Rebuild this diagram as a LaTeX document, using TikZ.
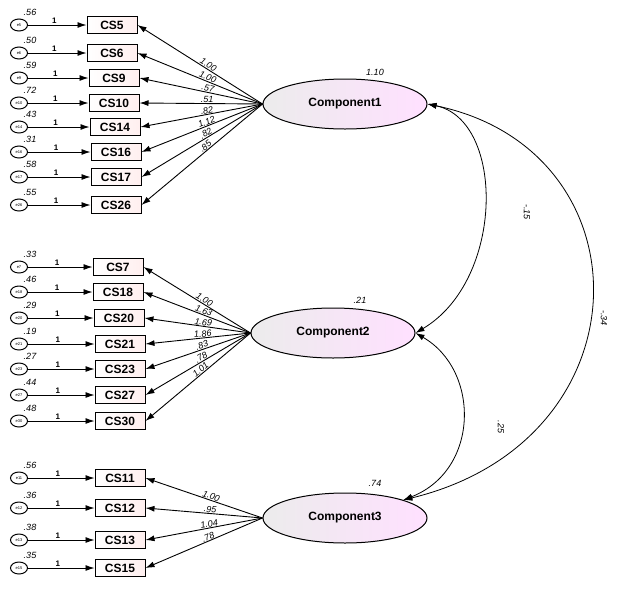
\documentclass[tikz,border=0pt]{standalone}
\usepackage{fontspec}
\setmainfont{Liberation Sans}
\usetikzlibrary{arrows.meta,shapes.geometric}
\begin{document}
\begin{tikzpicture}[x=1pt,y=-1pt,
 box/.style={draw,line width=1pt,minimum width=50pt,minimum height=17pt,inner sep=0pt,left color=white,right color=pink!25,font=\fontsize{12}{12}\selectfont\bfseries},
 err/.style={draw,ellipse,line width=1pt,minimum width=17pt,minimum height=12pt,inner sep=0pt,fill=white,font=\fontsize{4}{4}\selectfont},
 comp/.style={draw,ellipse,line width=1pt,minimum width=164pt,minimum height=50pt,left color=gray!15,right color=magenta!12,font=\fontsize{12}{12}\selectfont\bfseries},
 arr/.style={-{Latex[length=9pt,width=6pt]},line width=0.9pt},
 darr/.style={{Latex[length=9pt,width=6pt]}-{Latex[length=9pt,width=6pt]},line width=0.8pt},
 lab/.style={font=\fontsize{9}{9}\selectfont\itshape,inner sep=0.5pt},
 lw/.style={font=\fontsize{8}{8}\selectfont\bfseries,inner sep=1pt}]
\useasboundingbox (0,0) rectangle (625,590);
\node[comp] (C1) at (345,104) {Component1};
\node[comp] (C2) at (333,333) {Component2};
\node[comp] (C3) at (345,518) {Component3};
\node[lab] at (375,72) {1.10};
\node[lab] at (360,300) {.21};
\node[lab] at (375,483) {.74};
\foreach \n/\lbl/\y/\v/\ld/\c/\xb in {
 a5/5/25/.56/1.00/C1/112, a6/6/53/.50/1.00/C1/112, a9/9/78/.59/.57/C1/114, a10/10/103/.72/.51/C1/114,
 a14/14/127/.43/.82/C1/115, a16/16/152/.31/1.12/C1/116, a17/17/177/.58/.82/C1/116, a26/26/205/.55/.85/C1/116,
 b7/7/267/.33/1.00/C2/118, b18/18/292/.46/1.63/C2/118, b20/20/318/.29/1.69/C2/119, b21/21/344/.19/1.86/C2/120,
 b23/23/369/.27/.83/C2/120, b27/27/395/.44/.78/C2/120, b30/30/421/.48/1.01/C2/120,
 c11/11/478/.56/1.00/C3/120, c12/12/508/.36/.95/C3/120, c13/13/540/.38/1.04/C3/120, c15/15/568/.35/.78/C3/120}{
 \node[box] (\n) at (\xb,\y) {CS\lbl};
 \node[err] (e\n) at (19,\y) {e\lbl};
 \node[lab] at (30,\y-13) {\v};
 \draw[arr] (e\n) -- node[lw,above,pos=0.45]{1} (\n);
 \draw[arr] (\c.west) -- node[lab,above,sloped,pos=0.45]{\ld} (\n.east);
}
\draw[darr] (C1.east) .. controls (505,120) and (505,280) .. (C2.east);
\node[lab,rotate=-90] at (527,212) {-.15};
\draw[darr] (C1.east) .. controls (650,150) and (650,440) .. (C3.north east);
\node[lab,rotate=-90] at (604,318) {-.34};
\draw[darr] (C2.east) .. controls (480,370) and (480,470) .. (C3.north east);
\node[lab,rotate=-90] at (501,427) {.25};
\end{tikzpicture}
\end{document}
